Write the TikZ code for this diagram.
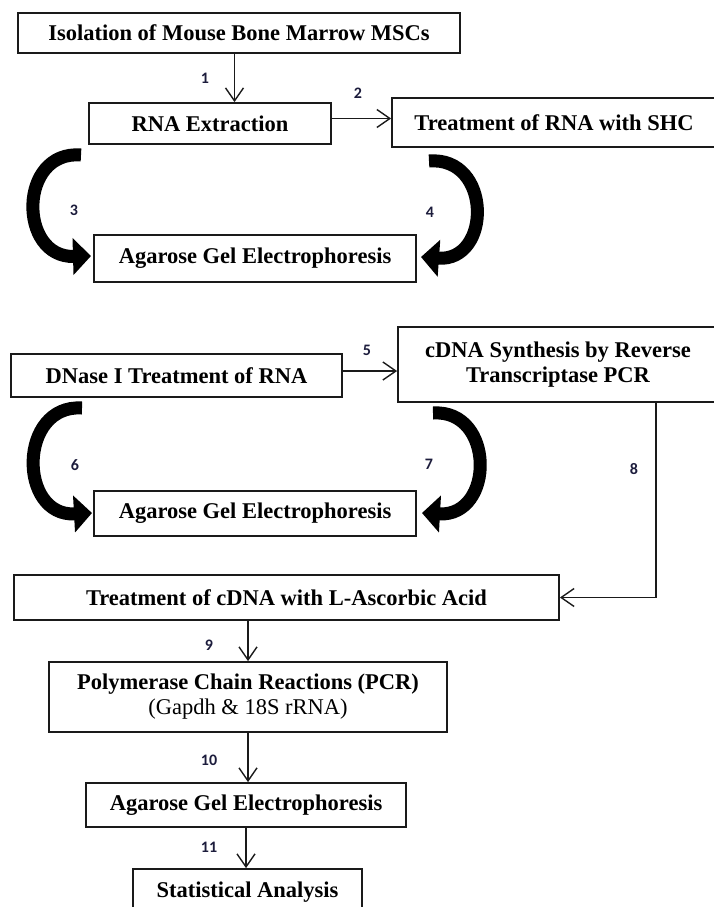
\documentclass[tikz,border=0pt]{standalone}
\usepackage{fontspec}
\setmainfont{Liberation Serif}
\newfontfamily\numfont{Carlito}
\usepackage{tikz}
\usetikzlibrary{calc,arrows.meta}
\definecolor{ink}{HTML}{1A1A1A}
\definecolor{numc}{HTML}{1C1C3C}
\tikzset{
  box/.style={draw=ink, line width=1.8pt, inner sep=0pt, align=center,
    font=\bfseries\fontsize{22.5}{25}\selectfont},
  conn/.style={draw=ink, line width=1.4pt, -{Straight Barb[length=13pt,width=18pt]}},
  bigarr/.style={draw=black, line width=13pt, -{Triangle[length=18pt,width=36pt]}},
  num/.style={text=numc, font=\numfont\bfseries\fontsize{16}{16}\selectfont}
}

\begin{document}
\begin{tikzpicture}[x=1pt, y=-1pt]
  \clip (0,0) rectangle (714,907);

  % first block
  \node[box, minimum width=442pt, minimum height=40pt] (iso) at (239,33) {Isolation of Mouse Bone Marrow MSCs};
  \node[box, minimum width=242pt, minimum height=41pt] (rna) at (210,123.5) {RNA Extraction};
  \node[box, minimum width=324pt, minimum height=49pt] (shc) at (554,122.5) {Treatment of RNA with SHC};
  \node[box, minimum width=322pt, minimum height=47pt] (gelA) at (255,258.5) {Agarose Gel Electrophoresis};

  % second block
  \node[box, minimum width=331pt, minimum height=43pt] (dnase) at (176.5,375.5) {DNase I Treatment of RNA};
  \node[box, minimum width=320pt, minimum height=75pt] (cdna) at (558,364.5) {cDNA Synthesis by Reverse\\Transcriptase PCR};
  \node[box, minimum width=322pt, minimum height=45pt] (gelB) at (255,513.5) {Agarose Gel Electrophoresis};

  % third block
  \node[box, minimum width=545pt, minimum height=45pt] (asc) at (286.5,597.5) {Treatment of cDNA with L-Ascorbic Acid};
  \node[box, minimum width=398pt, minimum height=70pt] (pcr) at (248,697) {Polymerase Chain Reactions (PCR)\\\mdseries(Gapdh \& 18S rRNA)};
  \node[box, minimum width=320pt, minimum height=44pt] (gelC) at (246,805) {Agarose Gel Electrophoresis};
  \node[box, minimum width=229pt, minimum height=46pt] (stat) at (247.5,892) {Statistical Analysis};

  % thin arrows
  \draw[conn] ([xshift=-4.5pt]iso.south) -- ([xshift=-4.5pt]iso.south |- rna.north);
  \draw[conn] ([yshift=5pt]rna.east) -- ([yshift=5pt]rna.east -| shc.west);
  \draw[conn] ([yshift=4.5pt]dnase.east) -- ([yshift=4.5pt]dnase.east -| cdna.west);
  \draw[conn] ([xshift=98pt]cdna.south) |- (asc.east);
  \draw[conn] (asc.south -| pcr.north) -- (pcr.north);
  \draw[conn] (pcr.south) -- (pcr.south |- gelC.north);
  \draw[conn] (gelC.south) -- (gelC.south |- stat.north);

  % thick curved arrows
  \coordinate (s3) at (81,155);  \coordinate (e3) at (91,256);
  \coordinate (s4) at (429,161); \coordinate (e4) at (421,257);
  \coordinate (s6) at (82,408);  \coordinate (e6) at (92,513);
  \coordinate (s7) at (433,413); \coordinate (e7) at (422,513);
  \draw[bigarr] (s3) .. controls (18,150) and (18,258) .. (e3);
  \draw[bigarr] (s4) .. controls (492,156) and (492,262) .. (e4);
  \draw[bigarr] (s6) .. controls (18,404) and (18,517) .. (e6);
  \draw[bigarr] (s7) .. controls (495,409) and (495,517) .. (e7);

  % step numbers
  \node[num] (n1) at (205,78) {1};   \node[num] (n2) at (358,93) {2};
  \node[num] (n3) at (74,210) {3};   \node[num] (n4) at (430,212) {4};
  \node[num] (n5) at (367,350) {5};  \node[num] (n6) at (75,465) {6};
  \node[num] (n7) at (429,464) {7};  \node[num] (n8) at (634,469) {8};
  \node[num] (n9) at (209,645) {9};  \node[num] (n10) at (209,760) {10};
  \node[num] (n11) at (209,847) {11};
\end{tikzpicture}
\end{document}
